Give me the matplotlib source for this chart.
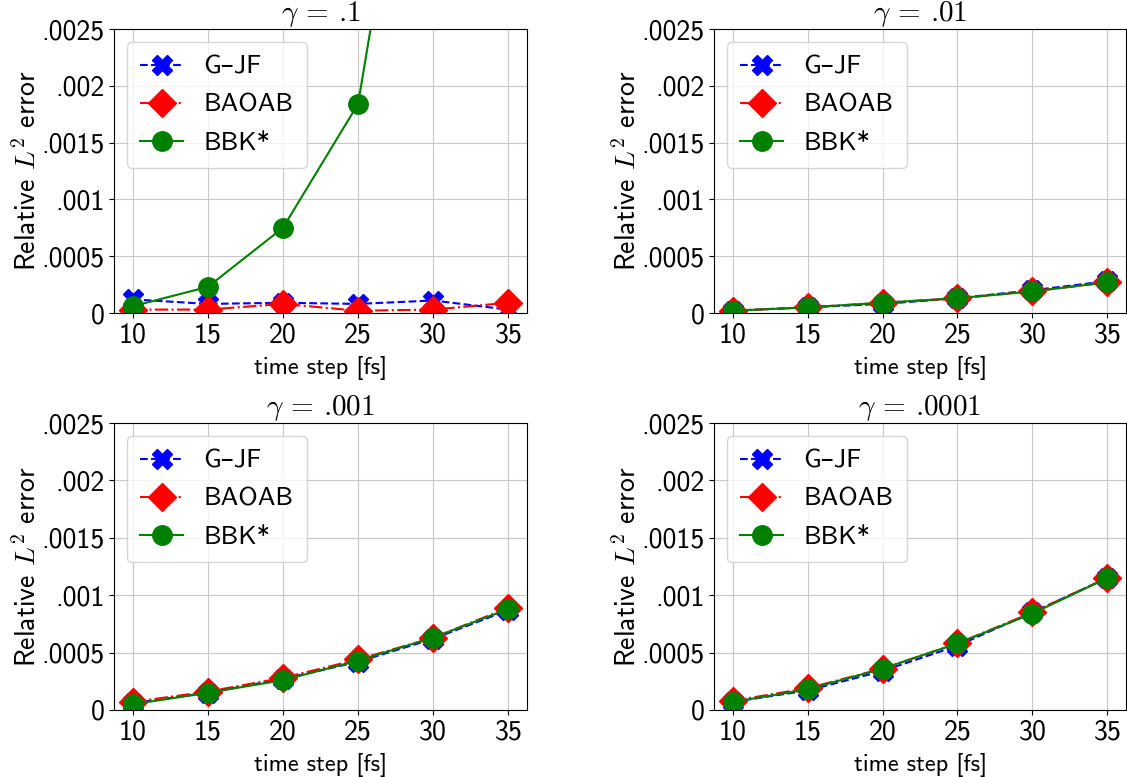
import matplotlib
matplotlib.use("Agg")
import matplotlib.pyplot as plt

plt.rcParams['font.family'] = ['cmss10', 'DejaVu Sans']
plt.rcParams['mathtext.fontset'] = 'cm'
plt.rcParams['axes.unicode_minus'] = False

steps = [10, 15, 20, 25, 30, 35]
gammas = ['.1', '.01', '.001', '.0001']

# relative L2 errors, one list per gamma
gjf = [
    [0.00012, 0.00008, 0.00009, 0.00008, 0.00011, 0.00003],
    [0.00002, 0.00005, 0.00008, 0.00013, 0.00020, 0.00028],
    [0.00006, 0.00015, 0.00027, 0.00042, 0.00062, 0.00087],
    [0.00007, 0.00017, 0.00034, 0.00056, 0.00085, 0.00115],
]
baoab = [
    [0.00003, 0.00003, 0.00008, 0.00002, 0.00003, 0.00009],
    [0.00002, 0.00005, 0.00009, 0.00013, 0.00019, 0.00027],
    [0.00007, 0.00016, 0.00028, 0.00044, 0.00063, 0.00089],
    [0.00008, 0.00019, 0.00036, 0.00058, 0.00085, 0.00115],
]
bbk = [
    [0.00006, 0.00023, 0.00075, 0.00184, 0.0058, 0.012],
    [0.00002, 0.00005, 0.00009, 0.00013, 0.00019, 0.00027],
    [0.00005, 0.00015, 0.00026, 0.00043, 0.00063, 0.00088],
    [0.00007, 0.00018, 0.00036, 0.00058, 0.00084, 0.00115],
]

yticks = [0, 0.0005, 0.001, 0.0015, 0.002, 0.0025]
ytick_labels = ['0', '.0005', '.001', '.0015', '.002', '.0025']

fig = plt.figure(figsize=(11.27, 7.77), dpi=100)
W, H = 1127, 777
boxes = [(114, 29, 527, 313), (714, 29, 1126, 313),
         (114, 423, 527, 710), (714, 423, 1126, 710)]

for i, (x0, y0, x1, y1) in enumerate(boxes):
    ax = fig.add_axes([x0 / W, 1 - y1 / H, (x1 - x0) / W, (y1 - y0) / H])
    ax.plot(steps, gjf[i], 'b--', marker='X', markersize=14, label='G–JF')
    ax.plot(steps, baoab[i], 'r-.', marker='D', markersize=14, label='BAOAB')
    ax.plot(steps, bbk[i], 'g-', marker='o', markersize=14, label='BBK*')
    ax.set_ylim(0, 0.0025)
    ax.set_yticks(yticks)
    ax.set_yticklabels(ytick_labels)
    ax.set_xticks(steps)
    ax.tick_params(labelsize=20)
    ax.grid(True, color='#c8c8c8')
    ax.set_title(r'$\gamma$ = ' + gammas[i], fontsize=21, pad=0,
                 family=['cmr10', 'DejaVu Serif'])
    ax.set_xlabel('time step [fs]', fontsize=17.5, labelpad=6)
    ax.set_ylabel(r'Relative $L^2$ error', fontsize=20, labelpad=0)
    ax.legend(loc='upper left', fontsize=19, labelspacing=0.55,
              handlelength=1.6, borderpad=0.5, borderaxespad=0.5)

fig.savefig('out.png', dpi=100)
